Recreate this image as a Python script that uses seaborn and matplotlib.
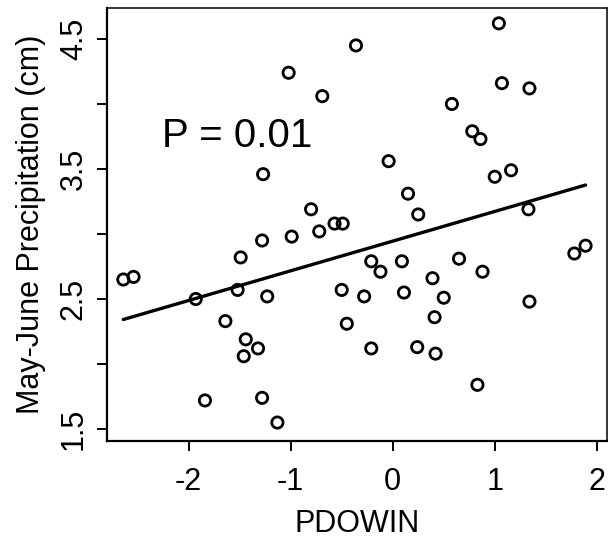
import matplotlib
matplotlib.use("Agg")
import matplotlib.pyplot as plt
import seaborn as sns
import numpy as np
import pandas as pd

# Values
pdowin = [-2.64, -2.54, -1.93, -1.64, -1.49, -1.52, -1.28, -1.23, -1.44, -1.32,
          -1.46, -1.84, -1.28, -1.13, -0.99, -0.72, -0.57, -0.49, -0.50, -0.45,
          -1.27, -0.80, -1.02, -0.69, -0.36, 1.04, 1.07, 1.34, 0.58, 0.78,
          0.86, -0.04, 1.16, 1.00, 0.15, 0.25, 1.33, -0.21, -0.12, 0.09,
          0.65, 0.88, 0.39, -0.28, 0.11, 0.50, 0.41, -0.21, 0.24, 0.42,
          0.83, 1.34, 1.78, 1.89]
precip = [2.65, 2.67, 2.50, 2.33, 2.82, 2.57, 2.95, 2.52, 2.19, 2.12,
          2.06, 1.72, 1.74, 1.55, 2.98, 3.02, 3.08, 3.08, 2.57, 2.31,
          3.46, 3.19, 4.24, 4.06, 4.45, 4.62, 4.16, 4.12, 4.00, 3.79,
          3.73, 3.56, 3.49, 3.44, 3.31, 3.15, 3.19, 2.79, 2.71, 2.79,
          2.81, 2.71, 2.66, 2.52, 2.55, 2.51, 2.36, 2.12, 2.13, 2.08,
          1.84, 2.48, 2.85, 2.91]
x_ticks = [-2, -1, 0, 1, 2]
y_ticks = [1.5, 2.0, 2.5, 3.0, 3.5, 4.0, 4.5]
y_tick_labels = ["1.5", "", "2.5", "", "3.5", "", "4.5"]
annotation = "P = 0.01"

df = pd.DataFrame({"PDOWIN": pdowin, "precip": precip})

sns.set_style("ticks")
plt.rcParams["font.family"] = ["Liberation Sans", "DejaVu Sans"]

fig = plt.figure(figsize=(6.08, 5.38), dpi=100)
ax = fig.add_axes([107/608, 1 - 441/538, 500/608, 433/538])

sns.regplot(data=df, x="PDOWIN", y="precip", ax=ax, ci=None, scatter=False,
            truncate=True, line_kws=dict(color="black", lw=2.4))
sns.scatterplot(data=df, x="PDOWIN", y="precip", ax=ax, marker="o",
                s=66, facecolors="none", edgecolor="black", linewidth=2.0,
                legend=False)

ax.set_xlim(-2.80, 2.10)
ax.set_ylim(1.408, 4.738)
ax.set_xticks(x_ticks)
ax.set_xticklabels([str(t) for t in x_ticks])
ax.set_yticks(y_ticks)
ax.set_yticklabels(y_tick_labels, rotation=90, va="center")
ax.tick_params(axis="both", labelsize=22, length=7, width=1.4, color="black",
               labelcolor="black", pad=6)
ax.tick_params(axis="x", pad=12)
for name, sp in ax.spines.items():
    sp.set_visible(True)
    sp.set_color("black")
    sp.set_linewidth(1.6 if name in ("left", "bottom") else 1.1)

ax.set_xlabel("PDOWIN", fontsize=22, labelpad=8, color="black")
ax.set_ylabel("May-June Precipitation (cm)", fontsize=22, labelpad=9, color="black")

ax.text(-2.265, 3.669, annotation, fontsize=29, ha="left", va="baseline",
        color="black")

fig.savefig("out.png", dpi=100)
